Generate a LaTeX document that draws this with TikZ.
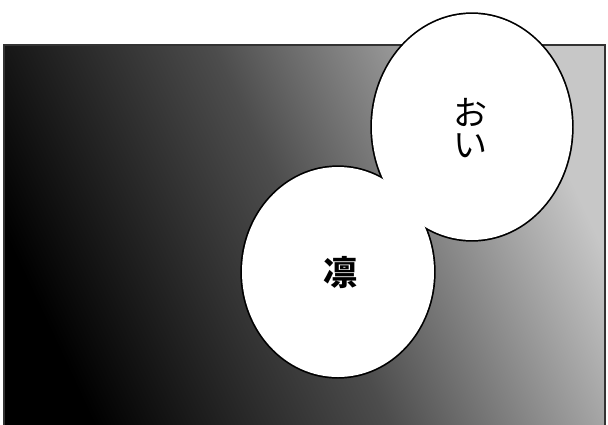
\documentclass[tikz,border=0pt]{standalone}
\usepackage{fontspec}
\newfontfamily\jpfont{Noto Sans CJK JP}
\usetikzlibrary{positioning}

\begin{document}
\begin{tikzpicture}[x=1pt, y=-1pt,
                panel/.style={draw=black!80, line width=1.6pt},
                bubbleline/.style={draw=black, line width=3.4pt},
                bubblefill/.style={fill=white},
                say/.style={font=\jpfont\fontsize{34}{34}\selectfont,
                            inner sep=0pt},
            ]
                \useasboundingbox (0,0) rectangle (608,424);
                \fill[white] (0,0) rectangle (608,424);

                % Panel with dark gradient
                \begin{scope}
                    \clip (0,0) rectangle (608,424);
                    \shade[left color=black, right color=black!22,
                           middle color=black!70, shading angle=115]
                        (4,45) rectangle (605,440);
                    \draw[panel] (4,440) -- (4,45) -- (605,45) -- (605,440);
                \end{scope}

                % Speech bubbles (outline, then fill to merge them)
                \path[bubbleline] (472,127) ellipse [x radius=100, y radius=113];
                \path[bubbleline] (338,272) ellipse [x radius=96, y radius=105];
                \path[bubblefill] (472,127) ellipse [x radius=100, y radius=113];
                \path[bubblefill] (338,272) ellipse [x radius=96, y radius=105];

                % Texts
                \node[say] (o) at (470,112) {お};
                \node[say] (i) at (470,146) {い};
                \node[say, font=\jpfont\bfseries\fontsize{34}{36}\selectfont] (rin) at (340,273) {凛};
            \end{tikzpicture}
\end{document}
